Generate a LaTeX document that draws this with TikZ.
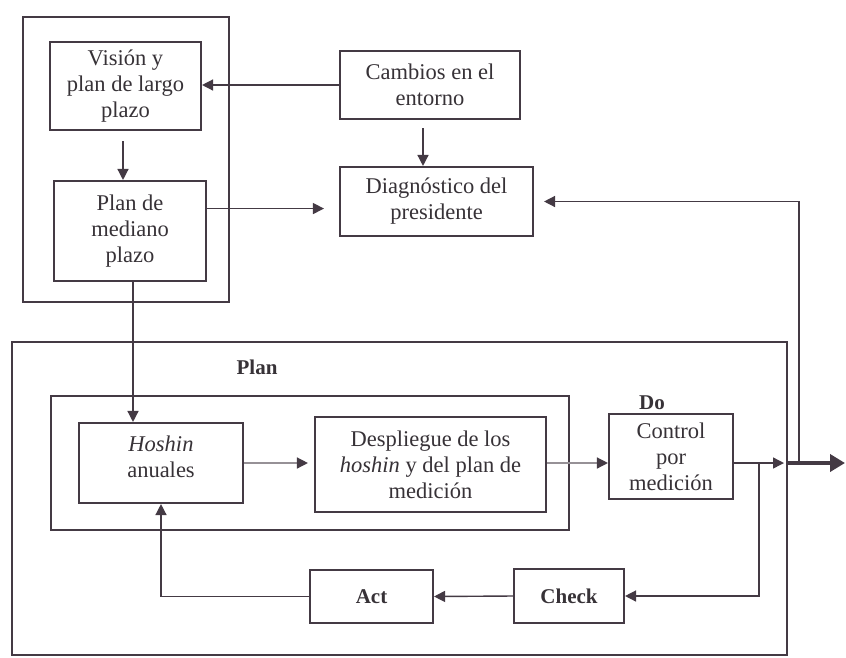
\documentclass[tikz,border=0pt]{standalone}
\usepackage{fontspec}
\setmainfont{Liberation Serif}
\usetikzlibrary{arrows.meta,calc}
\definecolor{ink}{RGB}{68,58,68}
\definecolor{txt}{RGB}{55,50,55}
\definecolor{soft}{RGB}{150,145,150}
\begin{document}
\begin{tikzpicture}[x=1pt,y=-1pt,
  box/.style={draw=ink,line width=2.1pt,inner sep=0pt,align=center,font=\fontsize{22.5}{26}\selectfont,text=txt},
  frame/.style={draw=ink,line width=2.1pt},
  lbl/.style={font=\fontsize{21}{24}\selectfont\bfseries,text=txt,inner sep=0pt},
  conn/.style={draw=ink,line width=1.4pt,-{Triangle[length=11pt,width=11pt]}},
  lightconn/.style={draw=soft,line width=1.4pt,-{Triangle[length=11pt,width=11pt,color=ink]}},
  plain/.style={draw=ink,line width=1.4pt}]
\useasboundingbox (0,0) rectangle (846,657);
\fill[white] (0,0) rectangle (846,657);

% enclosing frames
\draw[frame] (23,17) rectangle (229,302);
\draw[frame] (12,342) rectangle (787,655);
\draw[frame] (51,396) rectangle (569,530);

% upper boxes
\node[box,minimum width=151pt,minimum height=88pt] (vision) at (125.5,86) {Visión y\\plan de largo\\plazo};
\node[box,minimum width=152pt,minimum height=100pt] (mediano) at (130,231) {Plan de\\mediano\\plazo};
\node[box,minimum width=180pt,minimum height=68pt] (cambios) at (430,85) {Cambios en el\\entorno};
\node[box,minimum width=193pt,minimum height=69pt] (diag) at (436.5,201.5) {Diagnóstico del\\presidente};

% PDCA boxes
\node[lbl] (plan) at (257,367) {Plan};
\node[lbl] (do) at (652,403) {Do};
\node[box,minimum width=164pt,minimum height=80pt] (hoshin) at (161,463) {};
\node[box,draw=none,anchor=center] (hoshintxt) at (161,457) {\textit{Hoshin}\\anuales};
\node[box,minimum width=231pt,minimum height=95pt] (desp) at (430.5,464.5) {Despliegue de los\\\textit{hoshin} y del plan de\\medición};
\node[box,minimum width=124pt,minimum height=85pt] (control) at (671,456.5) {Control\\por\\medición};
\node[box,minimum width=110pt,minimum height=54pt] (check) at (569,596) {};
\node[lbl] at (check) {Check};
\node[box,minimum width=123pt,minimum height=53pt] (act) at (371.5,596.5) {};
\node[lbl] at (act) {Act};

% junction points on the output line
\coordinate (split) at (759,463);
\coordinate (edge) at (787,463);
\coordinate (fb) at (799,463);
\coordinate (out) at (845,463);
\coordinate (mp) at ($(mediano.north east)!0.28!(mediano.south east)$);
\coordinate (vs) at ($(vision.south)+(-2.5,0)$);
\coordinate (ms) at ($(mediano.south)+(3,0)$);
\coordinate (cs) at ($(cambios.south)+(-7,0)$);

% connectors
\draw[conn] (cambios.west) -- (cambios.west -| vision.east);
\draw[conn,shorten <=10pt] (vs) -- (vs |- mediano.north);
\draw[conn,shorten <=8pt] (cs) -- (cs |- diag.north);
\draw[conn,shorten >=15pt] (mp) -- (mp -| diag.west);
\draw[conn] (ms) -- (ms |- hoshin.north);
\draw[lightconn,shorten >=6pt] (hoshin.east |- split) -- (desp.west |- split);
\draw[lightconn] (desp.east |- split) -- (control.west |- split);
\draw[conn,shorten >=3pt] (control.east |- split) -- (edge);
\draw[draw=ink,line width=4pt,-{Triangle[length=15pt,width=17pt]}] (edge) -- (out);
\draw[conn,shorten >=10pt] (fb) |- (diag.east);
\draw[conn] (split) |- (check.east);
\draw[conn] (check.west) -- (act.east);
\draw[conn] (act.west) -| (hoshin.south);
\end{tikzpicture}
\end{document}
